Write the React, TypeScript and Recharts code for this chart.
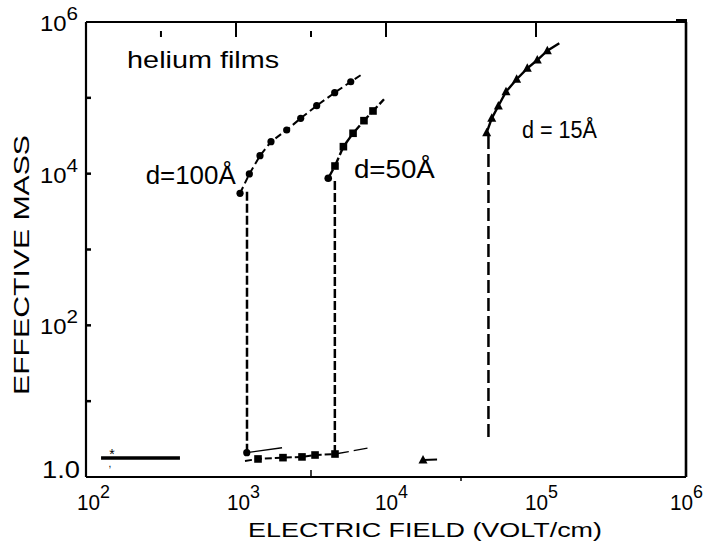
import React from 'react';
import { ComposedChart, Line, XAxis, YAxis, ReferenceDot } from 'recharts';

const FONT = '"Liberation Sans", Arial, Helvetica, sans-serif';

// axis ticks (log decades)
const xBottomTicks = [100, 1000, 3162, 10000, 31623, 100000, 1000000];
const xTopTicks = [316, 1000, 3162, 10000, 100000];
const yTicks = [1, 10, 100, 1000, 10000, 100000, 1000000];

// d = 100 Å  (field V/cm, effective mass)
const d100Curve = [
  { x: 1064, y: 5510 },
  { x: 1227, y: 9910 },
  { x: 1445, y: 17260 },
  { x: 1711, y: 26400 },
  { x: 2177, y: 37650 },
  { x: 2700, y: 53700 },
  { x: 3450, y: 78800 },
  { x: 4550, y: 117000 },
  { x: 5820, y: 163000 },
  { x: 6810, y: 200000 },
];
const d100Drop = [
  { x: 1184, y: 2.09 },
  { x: 1184, y: 6300 },
];
const d100Low = [
  { x: 1180, y: 2.09 },
  { x: 2027, y: 2.43 },
];

// d = 50 Å
const d50Curve = [
  { x: 4120, y: 8690 },
  { x: 4570, y: 12620 },
  { x: 5200, y: 22700 },
  { x: 6030, y: 34100 },
  { x: 7130, y: 50000 },
  { x: 8190, y: 67100 },
  { x: 9700, y: 95700 },
];
const d50Drop = [
  { x: 4560, y: 2.01 },
  { x: 4560, y: 8260 },
];
const d50Low = [
  { x: 1148, y: 1.63 },
  { x: 1402, y: 1.73 },
  { x: 2057, y: 1.8 },
  { x: 2754, y: 1.84 },
  { x: 3365, y: 1.95 },
  { x: 4571, y: 2.01 },
];
const d50LowTail = [
  { x: 4571, y: 2.01 },
  { x: 7820, y: 2.43 },
];

// d = 15 Å
const d15Curve = [
  { x: 46900, y: 34700 },
  { x: 50700, y: 53700 },
  { x: 56100, y: 78100 },
  { x: 63100, y: 120500 },
  { x: 74300, y: 175700 },
  { x: 87500, y: 245000 },
  { x: 102000, y: 315000 },
  { x: 119000, y: 419000 },
  { x: 143000, y: 524000 },
];
const d15Drop = [
  { x: 48200, y: 3.37 },
  { x: 48200, y: 34700 },
];
const d15Low = [
  { x: 17650, y: 1.68 },
  { x: 21900, y: 1.7 },
];

// bulk reference (*)
const bulkLine = [
  { x: 126, y: 1.78 },
  { x: 423, y: 1.78 },
];

const Circle = (props: any) => {
  const { cx, cy, index } = props;
  if (index === d100Curve.length - 1 || cx == null) return <g key={index} />;
  return <circle key={index} cx={cx} cy={cy} r={3.6} fill="#000" />;
};

const FirstCircle = (props: any) => {
  const { cx, cy, index } = props;
  if (index !== 0) return <g key={index} />;
  return <circle key={index} cx={cx} cy={cy} r={3.6} fill="#000" />;
};

const Square = (props: any) => {
  const { cx, cy, index, skipFirst, skipLast, len } = props;
  if ((skipFirst && index === 0) || (skipLast && index === len - 1)) return <g key={index} />;
  return <rect key={index} x={cx - 3.8} y={cy - 3.8} width={7.6} height={7.6} fill="#000" />;
};

const Tri = (props: any) => {
  const { cx, cy, index, len } = props;
  if (len && index === len - 1) return <g key={index} />;
  return (
    <polygon key={index} points={`${cx},${cy - 5} ${cx - 4.5},${cy + 3.5} ${cx + 4.5},${cy + 3.5}`} fill="#000" />
  );
};

const BottomTick = ({ x, payload }: any) => {
  const e = Math.round(Math.log10(payload.value) * 2) / 2;
  if (!Number.isInteger(e)) {
    if (e === 3.5) return <line x1={x} x2={x} y1={477} y2={470} stroke="#000" strokeWidth={1.5} />;
    return <line x1={x} x2={x} y1={477} y2={481} stroke="#000" strokeWidth={1.5} />;
  }
  const shift = e === 6 ? 16 : e >= 4 ? 11 : 9;
  return (
    <text x={x - shift} y={510} fontFamily={FONT} fontSize={22} fill="#000" textLength={33} lengthAdjust="spacingAndGlyphs">
      10
      <tspan dy={-12} fontSize={19}>{e}</tspan>
    </text>
  );
};

const TopTick = ({ x, payload }: any) => {
  const e = Math.round(Math.log10(payload.value) * 2) / 2;
  const major = Number.isInteger(e);
  return <line x1={x} x2={x} y1={major ? 23 : 31} y2={37} stroke="#000" strokeWidth={2} />;
};

const LeftTick = ({ y, payload }: any) => {
  const e = Math.round(Math.log10(payload.value));
  const x = 86;
  return (
    <g>
      {e > 0 && e < 6 && <line x1={x} x2={x + 5} y1={y} y2={y} stroke="#000" strokeWidth={2.5} />}
      {e === 0 && (
        <text x={x - 44} y={y + 1} fontFamily={FONT} fontSize={23} fill="#000" textLength={38} lengthAdjust="spacingAndGlyphs">
          1.0
        </text>
      )}
      {e > 0 && e % 2 === 0 && (
        <text x={x - 46} y={y + 9} fontFamily={FONT} fontSize={22} fill="#000" textLength={38} lengthAdjust="spacingAndGlyphs">
          10
          <tspan dy={-11} fontSize={19}>{e}</tspan>
        </text>
      )}
    </g>
  );
};

const TextAt = (txt: string, size: number, len?: number, anchor: string = 'start') => (p: any) => (
  <text
    x={p.cx}
    y={p.cy}
    fontFamily={FONT}
    fontSize={size}
    fill="#000"
    textAnchor={anchor}
    {...(len ? { textLength: len, lengthAdjust: 'spacingAndGlyphs' } : {})}
  >
    {txt}
  </text>
);

// star with the small comma mark below it, kept as one text
const StarMark = (p: any) => (
  <text x={p.cx} y={p.cy} fontFamily={FONT} fontSize={14} fill="#000" textAnchor="middle">
    *
    <tspan x={p.cx - 2} dy={8} fontSize={10}>,</tspan>
  </text>
);

export default function App() {
  return (
    <div style={{ position: 'absolute', left: 0, top: 0, background: '#fff' }}>
      <ComposedChart width={707} height={545} margin={{ top: 21, right: 20, bottom: 67, left: 85 }}>
        <XAxis
          xAxisId="b"
          dataKey="x"
          type="number"
          scale="log"
          domain={[100, 1000000]}
          ticks={xBottomTicks}
          height={1}
          tickSize={0}
          tickMargin={0}
          axisLine={{ stroke: '#000', strokeWidth: 2.2 }}
          tickLine={false}
          tick={BottomTick}
          interval={0}
          allowDataOverflow
        />
        <XAxis
          xAxisId="t"
          orientation="top"
          dataKey="x"
          type="number"
          scale="log"
          domain={[100, 1000000]}
          ticks={xTopTicks}
          height={1}
          tickSize={0}
          tickMargin={0}
          axisLine={{ stroke: '#000', strokeWidth: 2 }}
          tickLine={false}
          tick={TopTick}
          interval={0}
          allowDataOverflow
        />
        <YAxis
          yAxisId="l"
          type="number"
          scale="log"
          domain={[1, 1000000]}
          ticks={yTicks}
          width={1}
          tickSize={0}
          tickMargin={0}
          axisLine={{ stroke: '#000', strokeWidth: 2.2 }}
          tickLine={false}
          tick={LeftTick}
          interval={0}
          allowDataOverflow
        />
        <YAxis
          yAxisId="r"
          orientation="right"
          type="number"
          scale="log"
          domain={[1, 1000000]}
          ticks={yTicks}
          width={1}
          tick={false}
          tickLine={false}
          axisLine={{ stroke: '#000', strokeWidth: 2.6 }}
          allowDataOverflow
        />

        {/* vertical drops */}
        <Line xAxisId="b" yAxisId="l" data={d100Drop} dataKey="y" stroke="#000" strokeWidth={2.5} strokeDasharray="9 3" dot={false} isAnimationActive={false} />
        <Line xAxisId="b" yAxisId="l" data={d50Drop} dataKey="y" stroke="#000" strokeWidth={2.5} strokeDasharray="9 3" dot={false} isAnimationActive={false} />
        <Line xAxisId="b" yAxisId="l" data={d15Drop} dataKey="y" stroke="#000" strokeWidth={2.5} strokeDasharray="13 5" dot={false} isAnimationActive={false} />

        {/* high-field branches */}
        <Line xAxisId="b" yAxisId="l" data={d100Curve} dataKey="y" stroke="#000" strokeWidth={2} strokeDasharray="7 4" dot={Circle} isAnimationActive={false} />
        <Line
          xAxisId="b"
          yAxisId="l"
          data={d50Curve}
          dataKey="y"
          stroke="#000"
          strokeWidth={2.4}
          strokeDasharray="10 3"
          dot={(p: any) => (p.index === 0 ? <circle key={p.index} cx={p.cx} cy={p.cy} r={3.8} fill="#000" /> : <Square {...p} key={p.index} skipLast len={d50Curve.length} />)}
          isAnimationActive={false}
        />
        <Line xAxisId="b" yAxisId="l" data={d15Curve} dataKey="y" stroke="#000" strokeWidth={2.4} dot={(p: any) => <Tri {...p} key={p.index} len={d15Curve.length} />} isAnimationActive={false} />

        {/* low-field branches */}
        <Line xAxisId="b" yAxisId="l" data={d100Low} dataKey="y" stroke="#000" strokeWidth={1.3} dot={FirstCircle} isAnimationActive={false} />
        <Line xAxisId="b" yAxisId="l" data={d50Low} dataKey="y" stroke="#000" strokeWidth={2} strokeDasharray="7 3" dot={(p: any) => <Square {...p} key={p.index} skipFirst len={d50Low.length} />} isAnimationActive={false} />
        <Line xAxisId="b" yAxisId="l" data={d50LowTail} dataKey="y" stroke="#000" strokeWidth={1.3} strokeDasharray="14 5" dot={false} isAnimationActive={false} />
        <Line xAxisId="b" yAxisId="l" data={d15Low} dataKey="y" stroke="#000" strokeWidth={2} dot={(p: any) => (p.index === 0 ? <Tri {...p} key={p.index} /> : <g key={p.index} />)} isAnimationActive={false} />
        <Line xAxisId="b" yAxisId="l" data={bulkLine} dataKey="y" stroke="#000" strokeWidth={3.5} dot={false} isAnimationActive={false} />

        {/* annotations and axis titles */}
        <ReferenceDot xAxisId="b" yAxisId="l" x={188} y={247600} r={0} shape={TextAt('helium  films', 24, 152)} />
        <ReferenceDot xAxisId="b" yAxisId="l" x={250} y={7310} r={0} shape={TextAt('d=100Å', 25, 90)} />
        <ReferenceDot xAxisId="b" yAxisId="l" x={6110} y={8770} r={0} shape={TextAt('d=50Å', 25, 81)} />
        <ReferenceDot xAxisId="b" yAxisId="l" x={80700} y={29570} r={0} shape={TextAt('d = 15Å', 23, 75)} />
        <ReferenceDot xAxisId="b" yAxisId="l" x={149} y={1.72} r={0} shape={StarMark} />
        <ReferenceDot
          xAxisId="b"
          yAxisId="l"
          x={100}
          y={1}
          r={0}
          shape={() => (
            <g>
              <text x={248} y={537} fontFamily={FONT} fontSize={21} fill="#000" textLength={354} lengthAdjust="spacingAndGlyphs">
                ELECTRIC FIELD (VOLT/cm)
              </text>
              <text
                x={29}
                y={265}
                transform="rotate(-90 29 265)"
                textAnchor="middle"
                fontFamily={FONT}
                fontSize={22}
                fill="#000"
                textLength={260}
                lengthAdjust="spacingAndGlyphs"
              >
                EFFECTIVE MASS
              </text>
              <rect x={676} y={19} width={11} height={4} fill="#000" />
            </g>
          )}
        />
      </ComposedChart>
    </div>
  );
}
